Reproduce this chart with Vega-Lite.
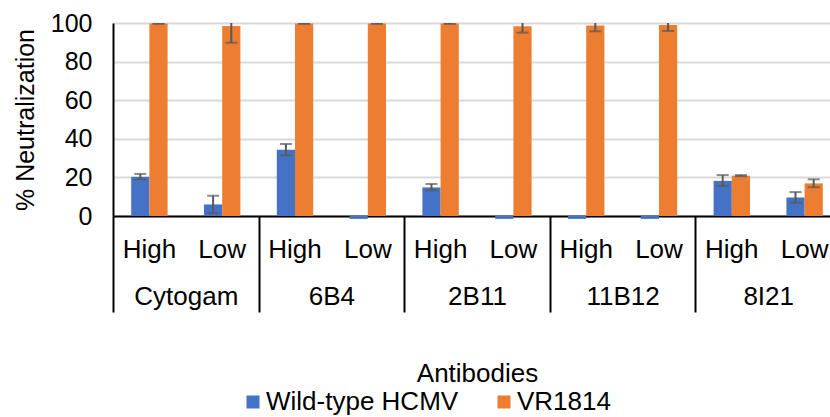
{
  "$schema": "https://vega.github.io/schema/vega-lite/v6.json",
  "width": 728,
  "height": 193,
  "autosize": {"type": "none"},
  "padding": {"left": 113, "top": 23, "right": -11, "bottom": 201},
  "config": {
    "font": "Liberation Sans",
    "view": {"stroke": null},
    "axis": {"labelColor": "#000000", "titleColor": "#000000", "labelFontSize": 26, "titleFontSize": 26, "titleFontWeight": "normal", "labelOverlap": false}
  },
  "datasets": {
    "main": [
      {"key": "Cytogam|High", "series": "Wild-type HCMV", "value": 20.3, "lo": 19.0, "hi": 21.8},
      {"key": "Cytogam|High", "series": "VR1814", "value": 99.8, "lo": 99.5, "hi": 100.1},
      {"key": "Cytogam|Low", "series": "Wild-type HCMV", "value": 6.0, "lo": 1.5, "hi": 10.5},
      {"key": "Cytogam|Low", "series": "VR1814", "value": 98.5, "lo": 89.8, "hi": 107},
      {"key": "6B4|High", "series": "Wild-type HCMV", "value": 34.3, "lo": 31.4, "hi": 37.3},
      {"key": "6B4|High", "series": "VR1814", "value": 99.8, "lo": 99.5, "hi": 100.1},
      {"key": "6B4|Low", "series": "Wild-type HCMV", "value": -1.5, "lo": null, "hi": null},
      {"key": "6B4|Low", "series": "VR1814", "value": 99.8, "lo": 99.5, "hi": 100.1},
      {"key": "2B11|High", "series": "Wild-type HCMV", "value": 14.8, "lo": 13.3, "hi": 16.6},
      {"key": "2B11|High", "series": "VR1814", "value": 99.8, "lo": 99.5, "hi": 100.1},
      {"key": "2B11|Low", "series": "Wild-type HCMV", "value": -1.5, "lo": null, "hi": null},
      {"key": "2B11|Low", "series": "VR1814", "value": 98.3, "lo": 95.0, "hi": 101.6},
      {"key": "11B12|High", "series": "Wild-type HCMV", "value": -1.5, "lo": null, "hi": null},
      {"key": "11B12|High", "series": "VR1814", "value": 98.7, "lo": 95.7, "hi": 101.7},
      {"key": "11B12|Low", "series": "Wild-type HCMV", "value": -1.5, "lo": null, "hi": null},
      {"key": "11B12|Low", "series": "VR1814", "value": 98.9, "lo": 95.9, "hi": 101.9},
      {"key": "8I21|High", "series": "Wild-type HCMV", "value": 18.2, "lo": 15.5, "hi": 21.2},
      {"key": "8I21|High", "series": "VR1814", "value": 20.9, "lo": 20.6, "hi": 21.2},
      {"key": "8I21|Low", "series": "Wild-type HCMV", "value": 9.6, "lo": 6.8, "hi": 12.4},
      {"key": "8I21|Low", "series": "VR1814", "value": 16.9, "lo": 14.9, "hi": 19.0}
    ],
    "groups": [
      {"group": "Cytogam"}, {"group": "6B4"}, {"group": "2B11"}, {"group": "11B12"}, {"group": "8I21"}
    ]
  },
  "layer": [
    {
      "data": {"name": "main"},
      "encoding": {
        "x": {
          "field": "key", "type": "nominal",
          "scale": {"domain": ["Cytogam|High", "Cytogam|Low", "6B4|High", "6B4|Low", "2B11|High", "2B11|Low", "11B12|High", "11B12|Low", "8I21|High", "8I21|Low"], "paddingInner": 0, "paddingOuter": 0}
        },
        "xOffset": {
          "field": "series", "type": "nominal",
          "scale": {"domain": ["Wild-type HCMV", "VR1814"], "paddingInner": 0, "paddingOuter": 1.14}
        }
      },
      "layer": [
        {
          "mark": {"type": "bar"},
          "encoding": {
            "x": {
              "field": "key", "type": "nominal",
              "axis": {"title": null, "labelExpr": "split(datum.value, '|')[1]", "labelAngle": 0, "ticks": false, "tickSize": 0, "labelPadding": 20, "domainColor": "#000000", "domainWidth": 2, "grid": false}
            },
            "y": {
              "field": "value", "type": "quantitative",
              "scale": {"domain": [0, 100], "nice": false},
              "axis": {"title": "% Neutralization", "values": [0, 20, 40, 60, 80, 100], "tickCount": 6, "labelFontSize": 25, "titleFontSize": 25, "labelOverlap": false, "labelBound": false, "labelFlush": false, "ticks": false, "labelPadding": 21, "titlePadding": 12, "domainColor": "#000000", "domainWidth": 2, "gridColor": "#d9d9d9", "gridWidth": 2}
            },
            "color": {
              "field": "series", "type": "nominal",
              "scale": {"domain": ["Wild-type HCMV", "VR1814"], "range": ["#4472C4", "#ED7D31"]},
              "legend": {"title": null, "orient": "none", "direction": "horizontal", "legendX": 127, "legendY": 366, "symbolType": "square", "symbolSize": 169, "symbolStrokeWidth": 0, "labelFontSize": 26, "labelColor": "#000000", "labelOffset": 0, "labelLimit": 600, "columnPadding": 32}
            }
          }
        },
        {
          "mark": {"type": "rule", "color": "#595959", "strokeWidth": 2, "clip": true},
          "encoding": {
            "y": {"field": "lo", "type": "quantitative"},
            "y2": {"field": "hi"}
          }
        },
        {
          "mark": {"type": "tick", "color": "#595959", "thickness": 2, "size": 12, "clip": true, "orient": "horizontal"},
          "encoding": {
            "y": {"field": "lo", "type": "quantitative"}
          }
        },
        {
          "mark": {"type": "tick", "color": "#595959", "thickness": 2, "size": 12, "clip": true, "orient": "horizontal"},
          "encoding": {
            "y": {"field": "hi", "type": "quantitative"}
          }
        }
      ]
    },
    {
      "data": {"name": "groups"},
      "mark": {"type": "text", "text": "", "opacity": 0},
      "encoding": {
        "x": {
          "field": "group", "type": "nominal",
          "scale": {"domain": ["Cytogam", "6B4", "2B11", "11B12", "8I21"], "paddingInner": 0, "paddingOuter": 0},
          "axis": {"orient": "bottom", "title": "Antibodies", "titlePadding": 47, "labelAngle": 0, "domain": false, "ticks": true, "tickBand": "extent", "tickSize": 96, "tickColor": "#000000", "tickWidth": 2, "labelPadding": -29, "grid": false}
        }
      }
    }
  ],
  "resolve": {"scale": {"x": "independent"}}
}
